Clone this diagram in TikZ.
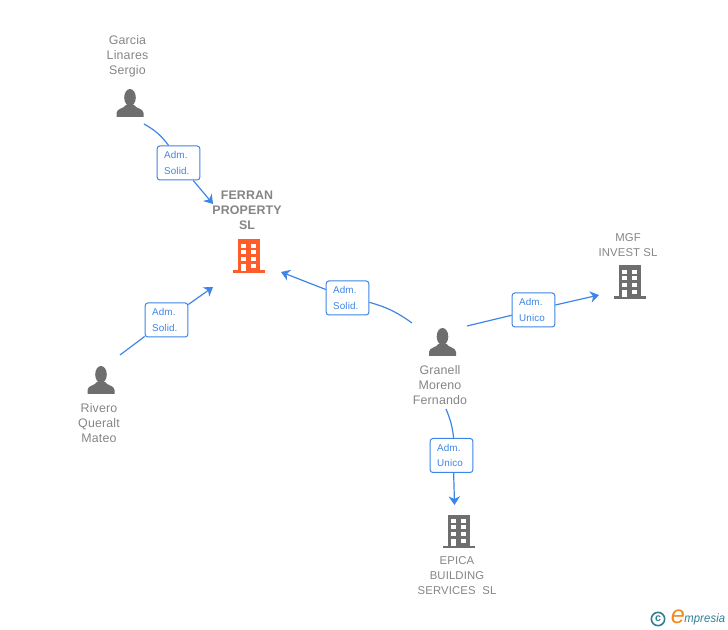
\documentclass[tikz,border=0pt]{standalone}
\usepackage{fontspec}
\setmainfont[LetterSpace=1.2]{Liberation Sans}
\usepackage{xcolor}
\usetikzlibrary{positioning}
\usetikzlibrary{arrows.meta}
\pgfdeclarelayer{bg}
\pgfsetlayers{bg,main}
\definecolor{iconGray}{HTML}{6E6E6E}
\definecolor{textGray}{HTML}{858585}
\definecolor{linkBlue}{HTML}{3D85E6}
\definecolor{mainOrange}{HTML}{FF5C2B}
\definecolor{logoTeal}{HTML}{2F7F93}
\definecolor{logoOrange}{HTML}{F08A1D}
\tikzset{
	nametext/.style={text=textGray, font=\fontsize{9.3}{11.2}\selectfont, align=center},
	companytext/.style={nametext, font=\fontsize{8.5}{11.2}\selectfont},
	mainname/.style={nametext, font=\fontsize{9.3}{11.2}\selectfont\bfseries},
	role/.style={draw=linkBlue, line width=0.75pt, fill=white, rounded corners=2pt, minimum width=32pt, minimum height=25.5pt, inner sep=0pt, text width=21.5pt, text=linkBlue, font=\fontsize{7.4}{11.6}\selectfont, align=left},
	link/.style={draw=linkBlue, line width=0.9pt, -{Stealth[length=6.5pt, width=8.5pt, inset=2pt]}},
	linkstart/.style={draw=linkBlue, line width=0.9pt},
	person/.pic={
		\fill [iconGray] (0,-19.5) ellipse (5.8 and 8.5);
		\fill [iconGray] (-13.5,0) -- (-13.5,-4) .. controls (-13.5,-8.5) and (-6,-8.5) .. (-4,-12) -- (4,-12) .. controls (6,-8.5) and (13.5,-8.5) .. (13.5,-4) -- (13.5,0) -- cycle;
	},
	building/.pic={
		\fill [pic actions] (-11,-33.5) rectangle (11,-2);
		\fill [pic actions] (-16,-2.5) rectangle (16,0);
		\foreach \wy in {-29.3,-22.7,-16} {
			\fill [white] (-7.7,\wy) rectangle (-2.7,\wy+4);
			\fill [white] (2.3,\wy) rectangle (7.3,\wy+4);
		}
		\fill [white] (-7.7,-9.3) rectangle (-2.7,-2);
		\fill [white] (2.3,-9.3) rectangle (7.3,-5.3);
	}
}

\begin{document}
\begin{tikzpicture}[x=0.75pt, y=-0.75pt]
	\useasboundingbox (0,0) rectangle (728,630);
	
	% people
	\pic at (130,117) {person};
	\node [nametext] (garcia) at (127.5,56.5) {Garcia\\Linares\\Sergio};
	
	\pic at (101,394) {person};
	\node [nametext] (rivero) at (99,423) {Rivero\\Queralt\\Mateo};
	
	\pic at (442.5,356) {person};
	\node [nametext] (granell) at (440,385) {Granell\\Moreno\\Fernando};
	
	% companies
	\pic [fill=mainOrange] at (249,273) {building};
	\node [mainname] (ferran) at (247,210) {FERRAN\\PROPERTY\\SL};
	
	\pic [fill=iconGray] at (630,299) {building};
	\node [companytext] (mgf) at (628,245) {MGF\\INVEST SL};
	
	\pic [fill=iconGray] at (459,548) {building};
	\node [companytext] (epica) at (457,576) {EPICA\\BUILDING\\SERVICES\ \ SL};
	
	% roles
	\node [role] (garciarole) at (178.5,163) {Adm.\\Solid.};
	\node [role] (riverorole) at (166.5,320) {Adm.\\Solid.};
	\node [role] (ferranrole) at (347.5,298) {Adm.\\Solid.};
	\node [role] (mgfrole) at (533.5,310) {Adm.\\Unico};
	\node [role] (eparole) at (451.5,455.5) {Adm.\\Unico};
	
	% free ends
	\coordinate (garciaout) at (144,124);
	\coordinate (garciain) at (213,204);
	\coordinate (riveroout) at (120,355);
	\coordinate (riveroin) at (213,287);
	\coordinate (ferranout) at (412,323);
	\coordinate (ferranin) at (281,272);
	\coordinate (mgfout) at (467,326);
	\coordinate (mgfin) at (599,295);
	\coordinate (epaout) at (446,409);
	\coordinate (epain) at (454.5,505);
	
	\begin{pgfonlayer}{bg}
		\draw [linkstart] (garciaout) to [bend left=12] (garciarole);
		\draw [link] (garciarole) -- (garciain);
		\draw [linkstart] (riveroout) -- (riverorole);
		\draw [link] (riverorole) -- (riveroin);
		\draw [linkstart] (ferranout) to [bend right=10] (ferranrole);
		\draw [link] (ferranrole) -- (ferranin);
		\draw [linkstart] (mgfout) -- (mgfrole);
		\draw [link] (mgfrole) -- (mgfin);
		\draw [linkstart] (epaout) to [bend left=8] (eparole.83);
		\draw [link] (eparole.-83) -- (epain);
	\end{pgfonlayer}
	
	% logo
	\node [draw=logoTeal, line width=1.2pt, circle, inner sep=0pt, minimum size=10pt, text=logoTeal, font=\fontsize{8}{8}\selectfont\bfseries] (copyr) at (658,619) {c};
	\node [text=logoOrange, font=\fontsize{19}{19}\selectfont\itshape, inner sep=0pt] (logoe) at (678,617) {e};
	\node [text=logoTeal, font=\fontsize{9.2}{10}\selectfont\itshape, inner sep=0pt, anchor=west, xscale=0.92] (logotext) at (684,619) {mpresia};
	
\end{tikzpicture}
\end{document}
